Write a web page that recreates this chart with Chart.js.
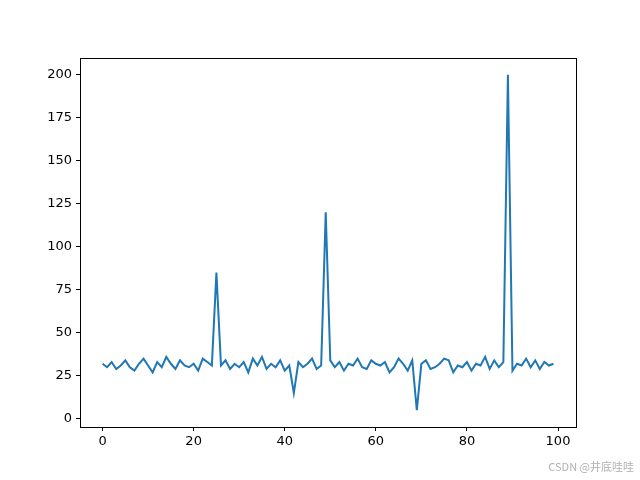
<!DOCTYPE html>
<html>
<head>
<meta charset="utf-8">
<script src="https://cdn.jsdelivr.net/npm/chart.js@4"></script>
<style>
  body { margin: 0; background: #fff; }
  #wrap { position: relative; width: 640px; height: 480px; }
  #mark { position: absolute; right: 6px; bottom: 6px; font: 11px "Noto Sans CJK SC", sans-serif; color: #b0b0b0; }
</style>
</head>
<body>
<div id="wrap">
  <canvas id="chart" width="640" height="480"></canvas>
  <div id="mark">CSDN @井底哇哇</div>
</div>
<script>
// data
const values = [
  32, 30, 33, 29, 31, 34, 30, 28, 32, 35,
  31, 27, 33, 30, 36, 32, 29, 34, 31, 30,
  32, 28, 35, 33, 31, 85, 31, 34, 29, 32,
  30, 33, 27, 35, 31, 36, 29, 32, 30, 34,
  28, 31, 15, 33, 30, 32, 35, 29, 31, 120,
  34, 30, 33, 28, 32, 31, 35, 30, 29, 34,
  32, 31, 33, 27, 30, 35, 32, 28, 34, 5,
  32, 34, 29, 30, 32, 35, 34, 27, 31, 30,
  33, 28, 32, 31, 36, 29, 34, 30, 33, 200,
  28, 32, 31, 35, 30, 34, 29, 33, 31, 32
];
const xTicks = [0, 20, 40, 60, 80, 100];
const yTicks = [0, 25, 50, 75, 100, 125, 150, 175, 200];

const points = values.map((v, i) => ({ x: i, y: v }));

// matplotlib style full frame
const framePlugin = {
  id: "frame",
  afterDraw(chart) {
    const a = chart.chartArea;
    const ctx = chart.ctx;
    ctx.save();
    ctx.strokeStyle = "#000";
    ctx.lineWidth = 1;
    ctx.strokeRect(a.left + 0.5, a.top + 0.5, a.right - a.left, a.bottom - a.top);
    ctx.restore();
  }
};

const tickFont = { family: "DejaVu Sans", size: 13 };

new Chart(document.getElementById("chart"), {
  type: "line",
  data: {
    datasets: [{
      data: points,
      borderColor: "#1f77b4",
      borderWidth: 2,
      pointRadius: 0,
      tension: 0,
      fill: false
    }]
  },
  options: {
    responsive: false,
    animation: false,
    layout: { padding: { top: 58, right: 64, left: 0, bottom: 0 } },
    plugins: { legend: { display: false }, tooltip: { enabled: false } },
    scales: {
      x: {
        type: "linear",
        min: -4.95,
        max: 103.95,
        afterBuildTicks(s) { s.ticks = xTicks.map(v => ({ value: v })); },
        afterFit(s) { s.height = 53; },
        grid: { drawOnChartArea: false, tickLength: 4, tickColor: "#000" },
        border: { color: "#000" },
        ticks: { color: "#000", font: tickFont, padding: 3, maxRotation: 0 }
      },
      y: {
        min: -4.75,
        max: 209.75,
        afterBuildTicks(s) { s.ticks = yTicks.map(v => ({ value: v })); },
        afterFit(s) { s.width = 80; },
        grid: { drawOnChartArea: false, tickLength: 4, tickColor: "#000" },
        border: { color: "#000" },
        ticks: { color: "#000", font: tickFont, padding: 4 }
      }
    }
  },
  plugins: [framePlugin]
});
</script>
</body>
</html>
